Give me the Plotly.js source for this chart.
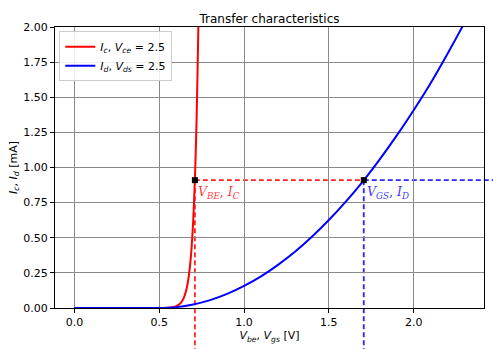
<!DOCTYPE html>
<html>
<head>
<meta charset="utf-8">
<script src="https://cdn.plot.ly/plotly-3.0.1.min.js"></script>
<style>html,body{margin:0;padding:0;background:#fff;}#chart{width:493px;height:349px;}</style>
</head>
<body>
<div id="chart"></div>
<script>
// BJT transfer characteristic Ic(Vbe), Vce = 2.5
var vbe = [0.0, 0.3, 0.5, 0.55, 0.58, 0.60, 0.62, 0.64, 0.65, 0.66, 0.67, 0.68, 0.69, 0.70, 0.71, 0.72, 0.73, 0.74];
var ic  = [0.0, 0.0, 0.0003, 0.0019, 0.006, 0.013, 0.028, 0.061, 0.090, 0.132, 0.194, 0.286, 0.420, 0.619, 0.91, 1.339, 1.97, 2.9];
// MOSFET transfer characteristic Id(Vgs), Vds = 2.5
var vgs = [0.0, 0.3, 0.5, 0.55, 0.6, 0.7, 0.8, 0.9, 1.0, 1.1, 1.2, 1.3, 1.4, 1.5, 1.6, 1.7, 1.8, 1.9, 2.0, 2.1, 2.2, 2.3, 2.4];
var id  = [0.0, 0.0, 0.0, 0.002, 0.006, 0.025, 0.056, 0.10, 0.157, 0.225, 0.307, 0.40, 0.507, 0.626, 0.757, 0.90, 1.058, 1.227, 1.408, 1.60, 1.81, 2.03, 2.26];
// Operating points
var opVBE = 0.71, opIC = 0.91;
var opVGS = 1.706, opID = 0.91;
var xTickVals = [0.0, 0.5, 1.0, 1.5, 2.0];
var xTickText = ["0.0", "0.5", "1.0", "1.5", "2.0"];
var yTickVals = [0, 0.25, 0.5, 0.75, 1.0, 1.25, 1.5, 1.75, 2.0];
var yTickText = ["0.00", "0.25", "0.50", "0.75", "1.00", "1.25", "1.50", "1.75", "2.00"];
var xRange = [-0.115, 2.415];
var yRange = [0, 2.0];

var traces = [
  {x: vbe, y: ic, mode: 'lines', line: {color: '#ff0000', width: 2, shape: 'spline', smoothing: 0.6},
   name: '<i>I</i><sub><i>c</i></sub>, <i>V</i><sub><i>ce</i></sub> = 2.5'},
  {x: vgs, y: id, mode: 'lines', line: {color: '#0000ff', width: 2, shape: 'spline', smoothing: 0.8},
   name: '<i>I</i><sub><i>d</i></sub>, <i>V</i><sub><i>ds</i></sub> = 2.5'},
  {x: [opVBE, opVGS], y: [opIC, opID], mode: 'markers', showlegend: false,
   marker: {symbol: 'square', color: '#000', size: 6}}
];

var yPaperOp = (opIC - yRange[0]) / (yRange[1] - yRange[0]);
var xPaperVGS = (opVGS - xRange[0]) / (xRange[1] - xRange[0]);
var dashStyle = '5px,3px';
var shapes = [
  {type: 'line', xref: 'x', yref: 'y', x0: opVBE, x1: opVGS, y0: opIC, y1: opIC,
   line: {color: 'rgba(255,0,0,0.85)', width: 1.8, dash: dashStyle}, layer: 'below'},
  {type: 'line', xref: 'x', yref: 'paper', x0: opVBE, x1: opVBE, y0: yPaperOp, y1: -0.2,
   line: {color: 'rgba(255,0,0,0.85)', width: 1.8, dash: dashStyle}, layer: 'below'},
  {type: 'line', xref: 'paper', yref: 'y', x0: xPaperVGS, x1: 1.1, y0: opID, y1: opID,
   line: {color: 'rgba(0,0,255,0.85)', width: 1.8, dash: dashStyle}, layer: 'below'},
  {type: 'line', xref: 'x', yref: 'paper', x0: opVGS, x1: opVGS, y0: yPaperOp, y1: -0.2,
   line: {color: 'rgba(0,0,255,0.85)', width: 1.8, dash: dashStyle}, layer: 'below'}
];

var annFont = {family: 'DejaVu Serif, serif', size: 12.5};
var annotations = [
  {x: opVBE, y: opIC, xref: 'x', yref: 'y', xanchor: 'left', yanchor: 'top', showarrow: false,
   xshift: 1, yshift: -2, text: '<i>V</i><sub><i>BE</i></sub>, <i>I</i><sub><i>C</i></sub>',
   font: Object.assign({color: 'rgba(255,0,0,0.8)'}, annFont)},
  {x: opVGS, y: opID, xref: 'x', yref: 'y', xanchor: 'left', yanchor: 'top', showarrow: false,
   xshift: 1, yshift: -2, text: '<i>V</i><sub><i>GS</i></sub>, <i>I</i><sub><i>D</i></sub>',
   font: Object.assign({color: 'rgba(0,0,255,0.8)'}, annFont)}
];

var layout = {
  width: 493, height: 349,
  margin: {l: 55, r: 9, t: 27, b: 41, pad: 0},
  paper_bgcolor: '#fff', plot_bgcolor: '#fff',
  font: {family: 'DejaVu Sans, sans-serif', size: 11, color: '#000'},
  title: {text: 'Transfer characteristics', x: 0.5, xref: 'paper', xanchor: 'center',
          y: 1, yref: 'paper', yanchor: 'bottom', pad: {b: 4}, font: {size: 12}},
  xaxis: {range: xRange, tickvals: xTickVals, ticktext: xTickText, ticks: 'outside', ticklen: 4,
          tickcolor: '#000', showline: true, linecolor: '#000', linewidth: 1, mirror: true,
          showgrid: true, gridcolor: '#8a8a8a', gridwidth: 1, zeroline: false,
          title: {text: '<i>V</i><sub><i>be</i></sub>, <i>V</i><sub><i>gs</i></sub> [V]', standoff: 3, font: {size: 11}}},
  yaxis: {range: yRange, tickvals: yTickVals, ticktext: yTickText, ticks: 'outside', ticklen: 4,
          tickcolor: '#000', showline: true, linecolor: '#000', linewidth: 1, mirror: true,
          showgrid: true, gridcolor: '#8a8a8a', gridwidth: 1, zeroline: false,
          title: {text: '<i>I</i><sub><i>c</i></sub>, <i>I</i><sub><i>d</i></sub> [mA]', standoff: 3, font: {size: 11}}},
  legend: {x: 0.01, y: 0.985, xanchor: 'left', yanchor: 'top', bgcolor: 'rgba(255,255,255,0.85)',
           bordercolor: '#cccccc', borderwidth: 1, font: {size: 11}, tracegroupgap: 0, itemwidth: 30},
  showlegend: true,
  shapes: shapes,
  annotations: annotations
};

Plotly.newPlot('chart', traces, layout, {displayModeBar: false, staticPlot: true});
</script>
</body>
</html>
